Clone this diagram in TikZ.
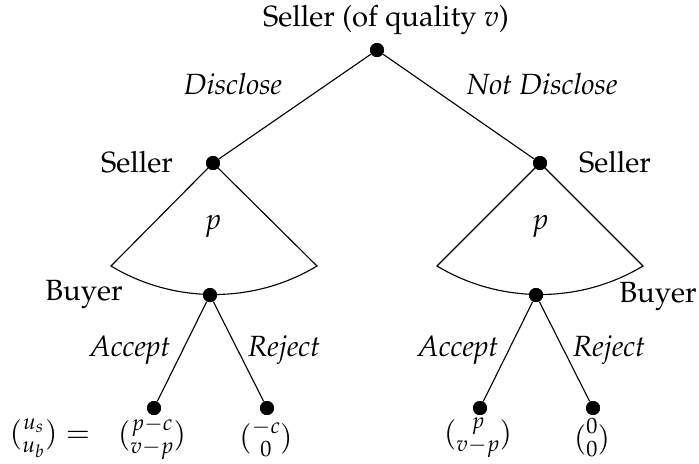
\documentclass[tikz,border=0pt]{standalone}
\usepackage[T1]{fontenc}
\usepackage{mathpazo}
\usepackage{amsmath}
\begin{document}
\begin{tikzpicture}[x=0.4pt,y=-0.4pt,
  every node/.style={font=\fontsize{11.7}{14}\selectfont},
  dot/.style={circle,fill=black,inner sep=0pt,minimum size=5.6pt},
  lbl/.style={inner sep=0pt},
  edge/.style={draw=black,line width=0.45pt}]
\useasboundingbox (0,0) rectangle (699,463);
% decision nodes
\node[dot] (R) at (377,50) {};
\node[dot] (SL) at (213,163) {};
\node[dot] (SR) at (540,163) {};
\node[dot] (BL) at (210,295) {};
\node[dot] (BR) at (536,295) {};
\node[dot] (L1) at (154,408) {};
\node[dot] (L2) at (267,408) {};
\node[dot] (L3) at (480,408) {};
\node[dot] (L4) at (593,408) {};
% fan corners
\coordinate (aL1) at (111,266);
\coordinate (aL2) at (317,266);
\coordinate (aR1) at (437,266);
\coordinate (aR2) at (643,266);
% edges
\draw[edge] (R) -- (SL);
\draw[edge] (R) -- (SR);
\draw[edge] (SL.center) -- (aL1) .. controls +(63,38) and +(-63,38) .. (aL2) -- (SL.center);
\draw[edge] (SR.center) -- (aR1) .. controls +(63,38) and +(-63,38) .. (aR2) -- (SR.center);
\draw[edge] (BL) -- (L1);
\draw[edge] (BL) -- (L2);
\draw[edge] (BR) -- (L3);
\draw[edge] (BR) -- (L4);
% redraw dots on top
\foreach \n in {R,SL,SR,BL,BR,L1,L2,L3,L4} \fill (\n) circle (2.8pt);
% labels
\node[lbl] (tR) at (386,20) {Seller (of quality $v$)};
\node[lbl] (tSL) at (137,162) {Seller};
\node[lbl] (tSR) at (615,162) {Seller};
\node[lbl] (tBL) at (84,294) {Buyer};
\node[lbl] (tBR) at (658,296) {Buyer};
\node[lbl] (pL) at (213,226) {$p$};
\node[lbl] (pR) at (540,226) {$p$};
\node[lbl] (dL) at (233,84) {\textit{Disclose}};
\node[lbl] (dR) at (542,84) {\textit{Not Disclose}};
\node[lbl] (a1) at (130,350) {\textit{Accept}};
\node[lbl] (r1) at (284,350) {\textit{Reject}};
\node[lbl] (a2) at (458,350) {\textit{Accept}};
\node[lbl] (r2) at (609,350) {\textit{Reject}};
% payoffs
\node[lbl] (u) at (50,438) {$\binom{u_s}{u_b}=$};
\node[lbl] (o1) at (152,438) {$\binom{p-c}{v-p}$};
\node[lbl] (o2) at (266,438) {$\binom{-c}{0}$};
\node[lbl] (o3) at (478,438) {$\binom{p}{v-p}$};
\node[lbl] (o4) at (592,438) {$\binom{0}{0}$};
\end{tikzpicture}
\end{document}
